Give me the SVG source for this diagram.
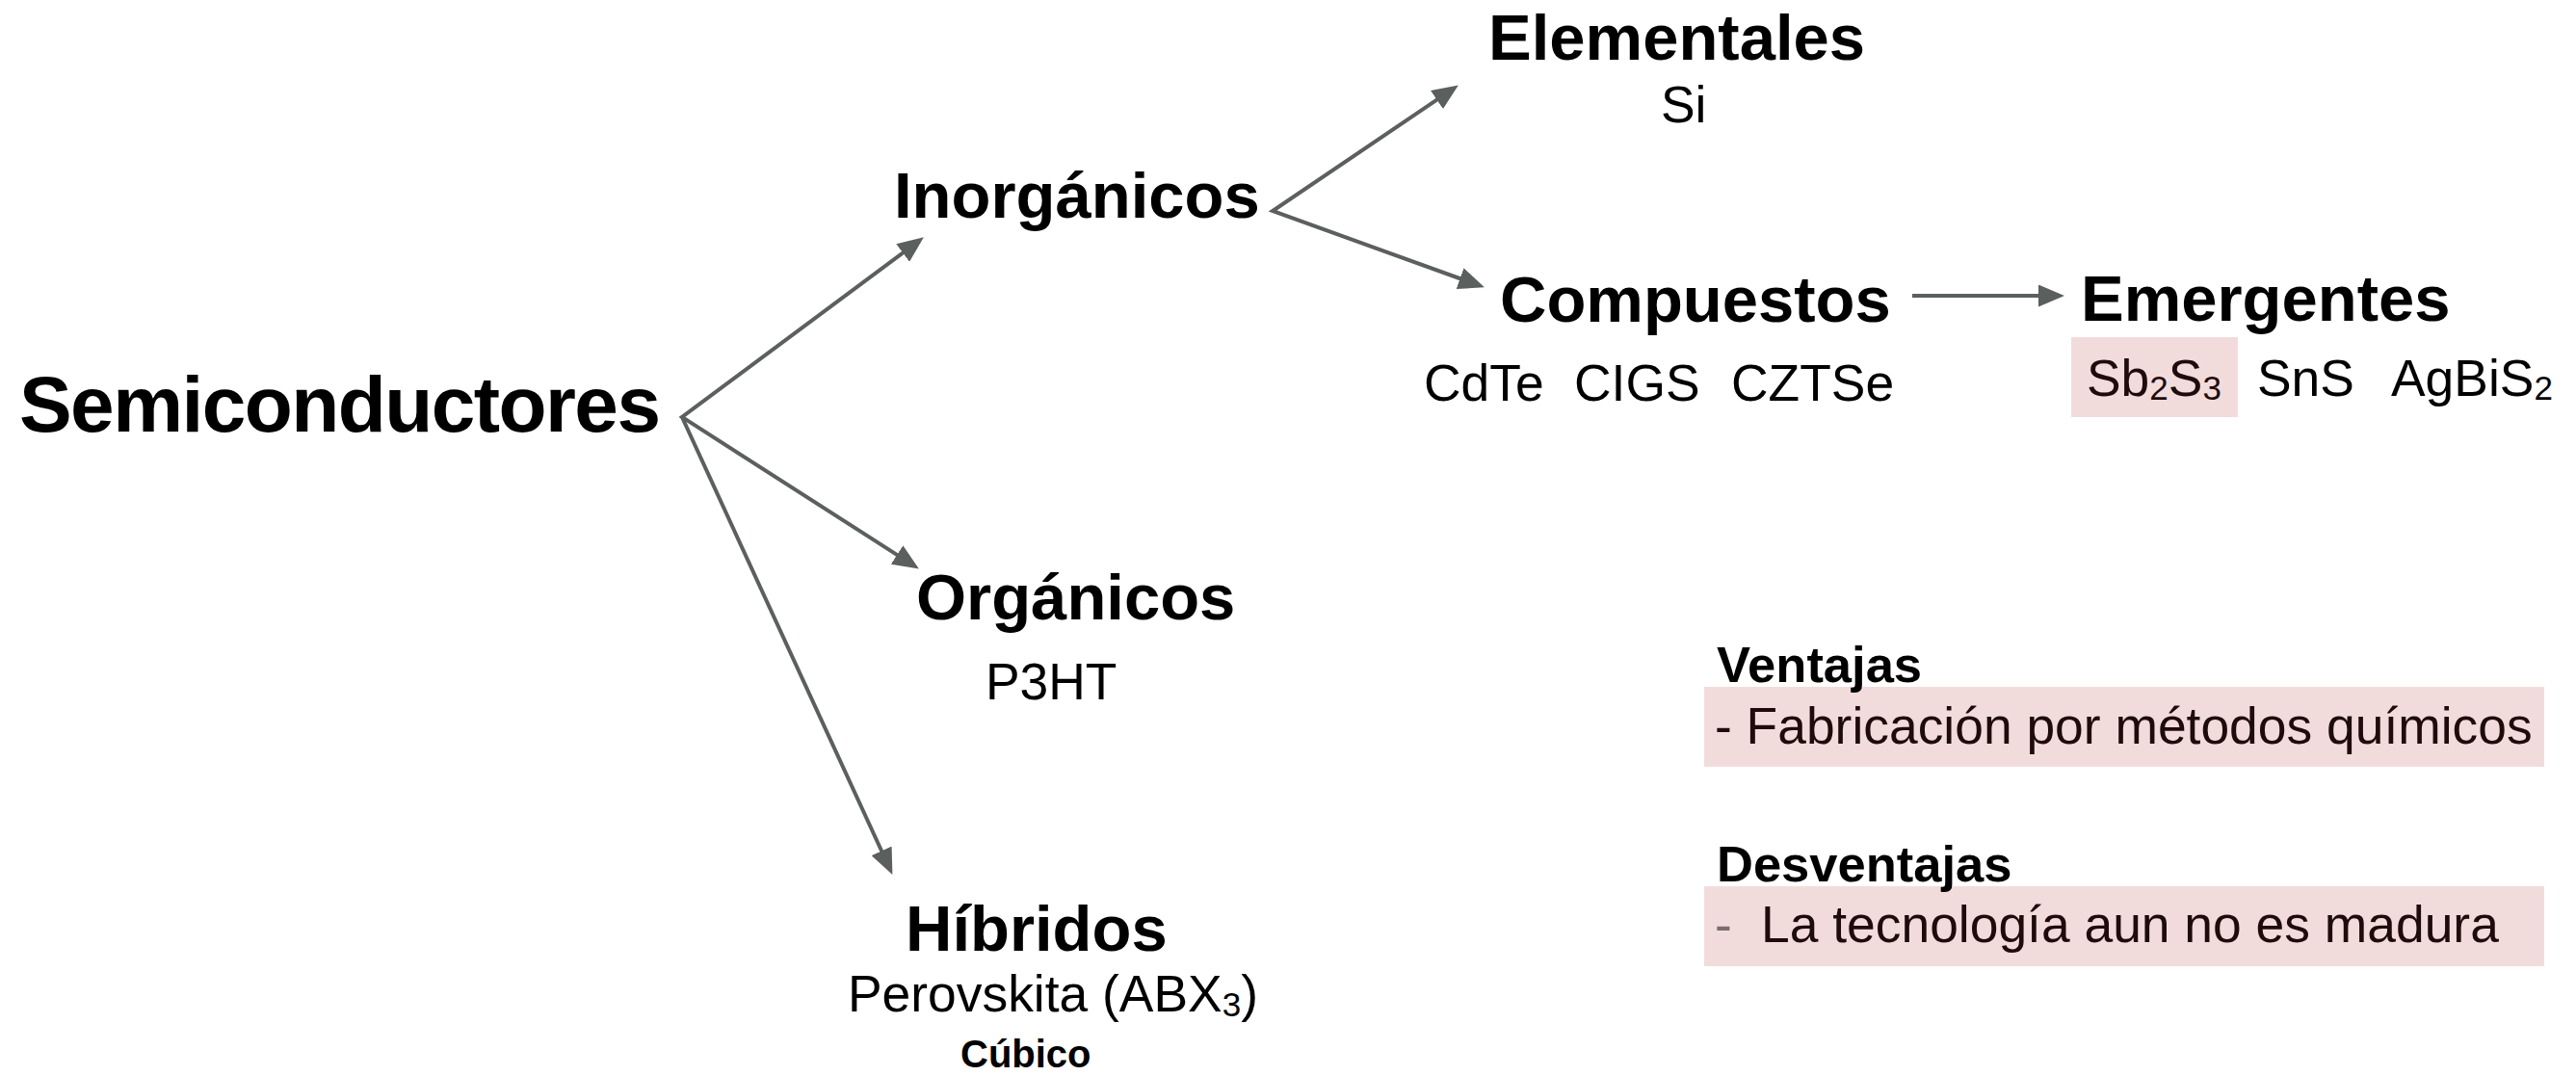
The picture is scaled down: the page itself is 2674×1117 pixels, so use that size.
<svg xmlns="http://www.w3.org/2000/svg" width="2674" height="1117" viewBox="0 0 2674 1117">
  <style>
    text { font-family: "Liberation Sans", Arial, Helvetica, sans-serif; fill: #000; }
    .root { font-size: 82px; font-weight: bold; }
    .title { font-size: 67px; font-weight: bold; }
    .item { font-size: 53.4px; }
    .note { font-size: 52.5px; font-weight: bold; }
    .small { font-size: 40px; font-weight: bold; }
    .sub { font-size: 35px; }
    .boxed { fill: #1e0b0b; }
    .dash { fill: #7a6c6c; }
    .hl { fill: #f2dcdb; }
    .conn { fill: none; stroke: #5b5f5e; stroke-width: 4; stroke-linejoin: miter; stroke-miterlimit: 20; }
  </style>
  <defs>
    <marker id="arrow" markerUnits="userSpaceOnUse" markerWidth="27" markerHeight="23" viewBox="0 0 27 23" refX="4" refY="11.5" orient="auto-start-reverse">
      <path d="M0,0 L27,11.5 L0,23 z" fill="#5b5f5e"/>
    </marker>
  </defs>

  <rect width="2674" height="1117" fill="#fff"/>

  <!-- connectors -->
  <g id="connectors">
    <path class="conn" d="M940.4,260.1 L708,433 L934.5,578.1" marker-start="url(#arrow)" marker-end="url(#arrow)"/>
    <path class="conn" d="M708,433 L916.8,887" marker-end="url(#arrow)"/>
    <path class="conn" d="M1494.8,101.3 L1321,219 L1519.3,290.5" marker-start="url(#arrow)" marker-end="url(#arrow)"/>
    <path class="conn" d="M1985,307 L2120,307" marker-end="url(#arrow)"/>
  </g>

  <g id="semiconductores">
    <text class="root" x="20" y="448" textLength="666" lengthAdjust="spacing">Semiconductores</text>
  </g>

  <g id="inorganicos">
    <text class="title" x="928" y="226">Inorgánicos</text>
  </g>

  <g id="elementales">
    <text class="title" x="1545" y="62">Elementales</text>
    <text class="item" x="1724" y="127">Si</text>
  </g>

  <g id="compuestos">
    <text class="title" x="1557" y="334">Compuestos</text>
    <text class="item" x="1478" y="416">CdTe</text>
    <text class="item" x="1634" y="416">CIGS</text>
    <text class="item" x="1797" y="416">CZTSe</text>
  </g>

  <g id="emergentes">
    <text class="title" x="2160" y="333">Emergentes</text>
    <rect class="hl" x="2150" y="350" width="173" height="83"/>
    <text class="item boxed" x="2166" y="411">Sb<tspan class="sub" dy="4">2</tspan><tspan dy="-4">S</tspan><tspan class="sub" dy="4">3</tspan></text>
    <text class="item" x="2343" y="411">SnS</text>
    <text class="item" x="2482" y="411">AgBiS<tspan class="sub" dy="4">2</tspan></text>
  </g>

  <g id="organicos">
    <text class="title" x="951" y="643">Orgánicos</text>
    <text class="item" x="1023" y="726">P3HT</text>
  </g>

  <g id="hibridos">
    <text class="title" x="940" y="987">Híbridos</text>
    <text class="item" x="880" y="1050">Perovskita (ABX<tspan class="sub" dy="5">3</tspan><tspan dy="-5">)</tspan></text>
    <text class="small" x="997" y="1108">Cúbico</text>
  </g>

  <g id="ventajas">
    <rect class="hl" x="1769" y="713" width="872" height="83"/>
    <text class="note" x="1782" y="708">Ventajas</text>
    <text class="item boxed" x="1780" y="772">- Fabricación por métodos químicos</text>
  </g>

  <g id="desventajas">
    <rect class="hl" x="1769" y="920" width="872" height="83"/>
    <text class="note" x="1782" y="915">Desventajas</text>
    <text class="item dash" x="1780" y="978">-</text>
    <text class="item boxed" x="1828" y="978">La tecnología aun no es madura</text>
  </g>
</svg>
